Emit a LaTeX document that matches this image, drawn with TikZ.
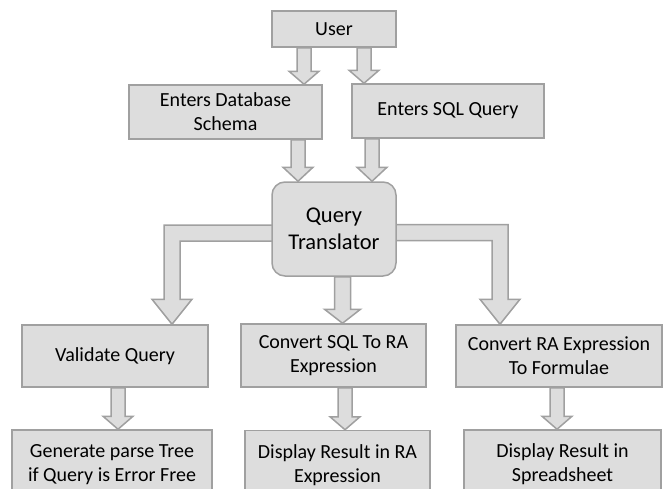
\documentclass[tikz,border=0pt]{standalone}
\usepackage{fontspec}
\setmainfont{Carlito}
\usetikzlibrary{calc,backgrounds}
\definecolor{boxfill}{RGB}{221,221,221}
\definecolor{boxline}{RGB}{160,160,160}
\tikzset{
  box/.style={draw=boxline, fill=boxfill, line width=1.5pt, inner sep=0pt, align=center,
    text=black, font=\fontsize{20}{24}\selectfont},
  fat/.style={draw=boxline, fill=boxfill, line width=1.5pt, line join=miter},
}
% #1 from, #2 to, #3 shaft half width, #4 head half width, #5 head length
\newcommand{\fatdown}[5]{%
  \draw [fat] ($(#1)+(-#3,0)$) -- ($(#2)+(-#3,#5)$) -- ($(#2)+(-#4,#5)$) -- (#2)
    -- ($(#2)+(#4,#5)$) -- ($(#2)+(#3,#5)$) -- ($(#1)+(#3,0)$) -- cycle;}
\begin{document}
\begin{tikzpicture}[x=1pt,y=1pt]
  \useasboundingbox (0,0) rectangle (667,-488);
  \node [box, minimum width=124pt, minimum height=36pt] (user) at (334,-29) {User};
  \node [box, minimum width=193pt, minimum height=54pt] (schema) at (225.5,-112) {Enters Database\\Schema};
  \node [box, minimum width=192pt, minimum height=54pt] (sql) at (448,-111) {Enters SQL Query};
  \node [box, minimum width=124pt, minimum height=94pt, rounded corners=13pt,
    font=\fontsize{22.5}{27.5}\selectfont] (qt) at (334,-229) {Query\\Translator};
  \node [box, minimum width=186pt, minimum height=62pt] (validate) at (115,-356) {Validate Query};
  \node [box, minimum width=185pt, minimum height=63pt] (convsql) at (333.5,-355.5) {Convert SQL To RA\\Expression};
  \node [box, minimum width=206pt, minimum height=62pt] (convra) at (559,-356) {Convert RA Expression\\To Formulae};
  \node [box, minimum width=200pt, minimum height=69pt] (parse) at (112,-464.5) {Generate parse Tree\\if Query is Error Free};
  \node [box, minimum width=185pt, minimum height=69pt] (dispra) at (337.5,-465) {Display Result in RA\\Expression};
  \node [box, minimum width=197pt, minimum height=69pt] (spread) at (562.5,-464.5) {Display Result in\\Spreadsheet};
  \coordinate (a1) at (304,0);
  \coordinate (a2) at (364,0);
  \coordinate (a3) at (298,0);
  \coordinate (a4) at (372,0);
  \coordinate (a5) at (342.5,0);
  \coordinate (a6) at (118,0);
  \coordinate (a7) at (345,0);
  \coordinate (a8) at (557,0);
  \coordinate (l1) at (172,-233);
  \coordinate (r1) at (500,-232.5);
  \begin{scope}[on background layer]
    \fatdown{user.south -| a1}{schema.north -| a1}{7}{15}{13}
    \fatdown{user.south -| a2}{sql.north -| a2}{7}{15}{13}
    \fatdown{schema.south -| a3}{qt.north -| a3}{7}{15}{14}
    \fatdown{sql.south -| a4}{qt.north -| a4}{7}{15}{14}
    \fatdown{qt.south -| a5}{convsql.north -| a5}{8}{18}{14}
    \fatdown{validate.south -| a6}{parse.north -| a6}{7}{15}{13}
    \fatdown{convsql.south -| a7}{dispra.north -| a7}{7}{15}{13}
    \fatdown{convra.south -| a8}{spread.north -| a8}{7}{15}{13}
    \draw [fat] ($(qt.center |- l1)+(0,8)$) -- ($(l1)+(-8,8)$) -- ($(validate.north -| l1)+(-8,25)$)
      -- ($(validate.north -| l1)+(-20,25)$) -- (validate.north -| l1) -- ($(validate.north -| l1)+(20,25)$)
      -- ($(validate.north -| l1)+(8,25)$) -- ($(l1)+(8,-8)$) -- ($(qt.center |- l1)+(0,-8)$) -- cycle;
    \draw [fat] ($(qt.center |- r1)+(0,8)$) -- ($(r1)+(8,8)$) -- ($(convra.north -| r1)+(8,25)$)
      -- ($(convra.north -| r1)+(20,25)$) -- (convra.north -| r1) -- ($(convra.north -| r1)+(-20,25)$)
      -- ($(convra.north -| r1)+(-8,25)$) -- ($(r1)+(-8,-8)$) -- ($(qt.center |- r1)+(0,-8)$) -- cycle;
  \end{scope}
\end{tikzpicture}
\end{document}
